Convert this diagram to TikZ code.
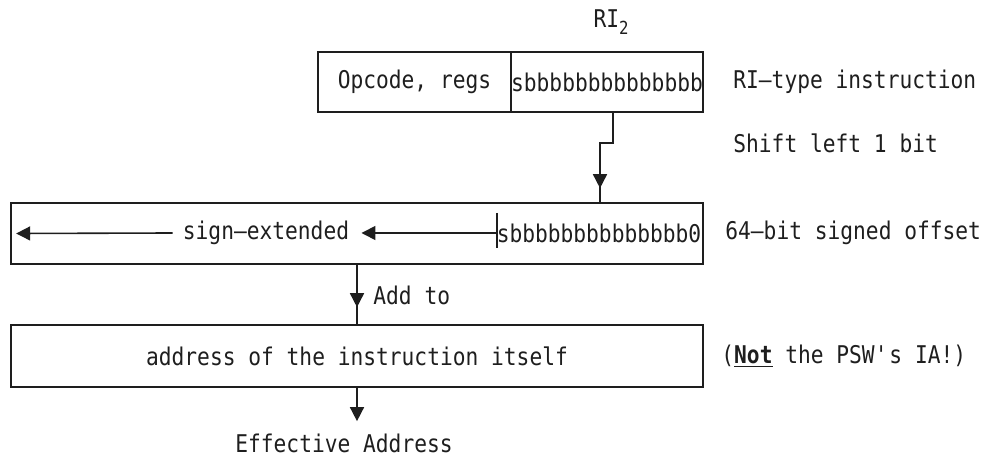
\documentclass[tikz,border=0pt]{standalone}
\usepackage{fontspec}
\setmainfont[FakeStretch=0.87]{DejaVu Sans Mono}
\usetikzlibrary{arrows.meta,decorations.markings}
\definecolor{Ink}{HTML}{1E1E1E}

\begin{document}
\begin{tikzpicture}[
    x=0.5pt,y=-0.5pt,
    font=\fontsize{12.2}{14}\selectfont,
    every node/.style={text=Ink},
    field/.style={draw=Ink,line width=0.8pt,inner sep=0pt,anchor=center},
    note/.style={anchor=west,inner sep=0pt},
    arrow/.style={draw=Ink,line width=0.8pt,-{Triangle[length=7pt,width=7pt]}},
    midarrow/.style={draw=Ink,line width=0.8pt,
      decoration={markings,mark=at position -#1 with {\arrow{Triangle[length=7pt,width=7pt]}}},
      postaction={decorate}}
]
\useasboundingbox (0,0) rectangle (995,458);
% instruction
\node[field,minimum width=96.5pt,minimum height=30pt] (opcode) at (414.5,82) {Opcode, regs};
\node[field,minimum width=96pt,minimum height=30pt] (imm) at (607,82) {sbbbbbbbbbbbbbb};
\node[inner sep=0pt] (ri) at (611,22) {RI\raisebox{-3.3pt}{\fontsize{9}{9}\selectfont 2}};
\node[note] (ritype) at (733,82) {RI—type instruction};
\node[note] (shift) at (733,143) {Shift left 1 bit};
% offset
\node[field,minimum width=346pt,minimum height=30.5pt] (offset) at (357,233.5) {};
\node[inner sep=0pt] (signext) at (266,233) {sign—extended};
\node[inner sep=0pt] (shifted) at (599,233) {sbbbbbbbbbbbbbb0};
\coordinate (tick) at (497,233);
\coordinate (jog) at (600,143);
\node[note] (width) at (725,233) {64—bit signed offset};
% address
\node[field,minimum width=346pt,minimum height=31pt] (addr) at (357,356) {address of the instruction itself};
\node[note] (psw) at (721,356) {(\underline{\textbf{Not}} the PSW\textquotesingle s IA!)};
\node[note] (add) at (373,295) {Add to};
\node[inner sep=0pt] (ea) at (344,443) {Effective Address};

\draw[Ink,line width=0.8pt] ([yshift=10pt]tick) -- ([yshift=-7.5pt]tick);
\draw[arrow] (tick) -- ([xshift=6pt]signext.east);
\draw[arrow] ([xshift=-5pt]signext.west) -- ([xshift=3pt]offset.west);
\draw[midarrow=7pt] ([xshift=3pt]imm.south) |- (jog) -- (jog |- offset.north);
\draw[midarrow=8.5pt] (offset) -- (addr);
\draw[arrow] (addr.south) -- ([yshift=6pt]addr.south |- ea.north);
\end{tikzpicture}
\end{document}
